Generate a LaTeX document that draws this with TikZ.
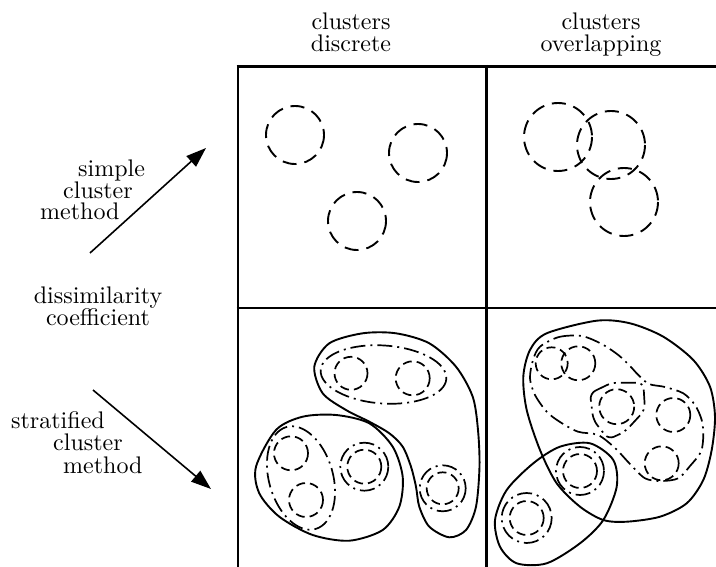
\documentclass[tikz,border=0pt]{standalone}
\usepackage{fontspec}
\setmainfont{lmroman10-regular.otf}
\usetikzlibrary{arrows.meta}
\begin{document}
\begin{tikzpicture}[x=1pt,y=-1pt,
  lbl/.style={inner sep=0pt, font=\fontsize{24}{22}\selectfont},
  gridline/.style={line width=2.8pt},
  dsh/.style={line width=1.9pt, dash pattern=on 14pt off 8pt},
  sdsh/.style={line width=1.7pt, dash pattern=on 9pt off 5pt},
  dd/.style={line width=1.7pt, dash pattern=on 15pt off 5pt on 2pt off 5pt},
  sol/.style={line width=1.9pt},
  arr/.style={line width=1.6pt, -{Triangle[length=20pt,width=14pt]}}
]
\useasboundingbox (0,0) rectangle (716,567);

% grid
\draw[gridline] (236.6,66.5) -- (716,66.5);
\draw[gridline] (236.6,308) -- (716,308);
\draw[gridline] (238,65) -- (238,567);
\draw[gridline] (486.5,65) -- (486.5,567);

% headings (anchor = baseline of last line)
\node[lbl,align=center,anchor=base] (h1) at (351,51.7) {clusters\\discrete};
\node[lbl,align=center,anchor=base] (h2) at (601,51.7) {clusters\\overlapping};

% left labels
\node[lbl,anchor=base west] (s1) at (78,176.7) {simple};
\node[lbl,anchor=base west] (s2) at (63,198.3) {cluster};
\node[lbl,anchor=base west] (s3) at (40,220) {method};
\node[lbl,align=center,anchor=base] (d1) at (98,326) {dissimilarity\\coefficient};
\node[lbl,anchor=base west] (t1) at (11,428) {stratified};
\node[lbl,anchor=base west] (t2) at (53,450) {cluster};
\node[lbl,anchor=base west] (t3) at (63,473) {method};

% arrows
\coordinate (a1s) at (90,253);
\coordinate (a1e) at (206,148);
\coordinate (a2s) at (93,390);
\coordinate (a2e) at (211,489);
\draw[arr] (a1s) -- (a1e);
\draw[arr] (a2s) -- (a2e);

% top-left: discrete clusters
\draw[dsh] (295,135) circle (29);
\draw[dsh] (418,153) circle (29);
\draw[dsh] (357,221) circle (29);

% top-right: overlapping clusters
\draw[dsh] (558,137) circle (34);
\draw[dsh] (611,145) circle (34);
\draw[dsh] (624,202) circle (34);

% bottom-left: stratified discrete
\draw[sol] plot[smooth cycle] coordinates {
  (314.3,366.7) (329.3,343.3) (362.7,333.3) (396,333.3) (429.3,343.3)
  (456,366.7) (472.7,396.7) (478,430) (479.5,466.7) (476,506.7) (466,530)
  (449.3,537.3) (429.3,526.7) (419.3,506.7) (416,486.7) (411,466.7)
  (402.7,446.7) (389.3,433.3) (369.3,421.7) (346,410) (322.7,393.3)};
\draw[dd, rotate around={-4:(383.5,374.5)}] (383.5,374.5) ellipse (63 and 29);
\draw[sdsh] (351,373.3) circle (16.5);
\draw[sdsh] (412.7,378.3) circle (17);
\draw[dd] (442.7,488.3) circle (23);
\draw[sdsh] (442.7,488.3) circle (16);

\draw[sol] plot[smooth cycle] coordinates {
  (256,466.7) (276,430) (302.7,416.7) (336,415) (369.3,423.3) (392.7,446.7)
  (402.7,476.7) (399.3,506.7) (382.7,530) (349.3,540.7) (312.7,535)
  (279.3,516.7) (259.3,493.3)};
\draw[dd, rotate around={16:(301,478)}] (301,478) ellipse (32 and 53);
\draw[sdsh] (291,453.3) circle (17);
\draw[sdsh] (306,500) circle (17);
\draw[dd] (364.3,466.7) circle (24);
\draw[sdsh] (364.3,466.7) circle (17);

% bottom-right: stratified overlapping
\draw[sol] plot[smooth cycle] coordinates {
  (546.7,333.3) (596.7,320.7) (630,323.3) (663.3,336.7) (693.3,360)
  (710,386.7) (715,416.7) (711.7,450) (703.3,480) (686.7,503.3) (660,516.7)
  (626.7,521.7) (603.3,520) (580,506.7) (556.7,483.3) (540,450)
  (526.7,410) (523.3,376.7) (530,350)};
\draw[sol] plot[smooth cycle] coordinates {
  (590,443.3) (613.3,460) (616.7,486.7) (603.3,520) (580,543.3)
  (546.7,563.3) (516.7,563.3) (500,546.7) (495,520) (506.7,490)
  (533.3,463.3) (560,446.7)};
\draw[dd] plot[smooth cycle] coordinates {
  (540,346.7) (559,337) (581.7,336) (601.7,344) (618.3,355) (630,366)
  (638.3,375) (649,384) (665,387) (683.3,393.3) (695,405) (701.7,420)
  (703.3,435) (701,451.7) (690,466) (678.3,478.3) (661,481) (645,478.3)
  (630,464) (615,448) (598,435) (578,431.7) (560,422) (546.7,411.7)
  (535,395) (530,378.3) (533,360)};
\draw[dd, rounded corners=6pt] (590,393.3) -- (611.7,382.7) -- (643.3,382.7)
  -- (645,410) -- (625,431.7) -- (608.3,439.3) -- (593.3,420) -- cycle;
\draw[sdsh] (551.7,363.3) circle (16);
\draw[sdsh] (578.3,363.3) circle (17);
\draw[sdsh] (616.7,406.7) circle (17.5);
\draw[sdsh] (673.3,415) circle (17);
\draw[sdsh] (661.7,463.3) circle (17);
\draw[dd] (580,471) circle (24);
\draw[sdsh] (580,471) circle (17);
\draw[dd] (526.7,518) circle (25);
\draw[sdsh] (526.7,518) circle (17);
\end{tikzpicture}
\end{document}
